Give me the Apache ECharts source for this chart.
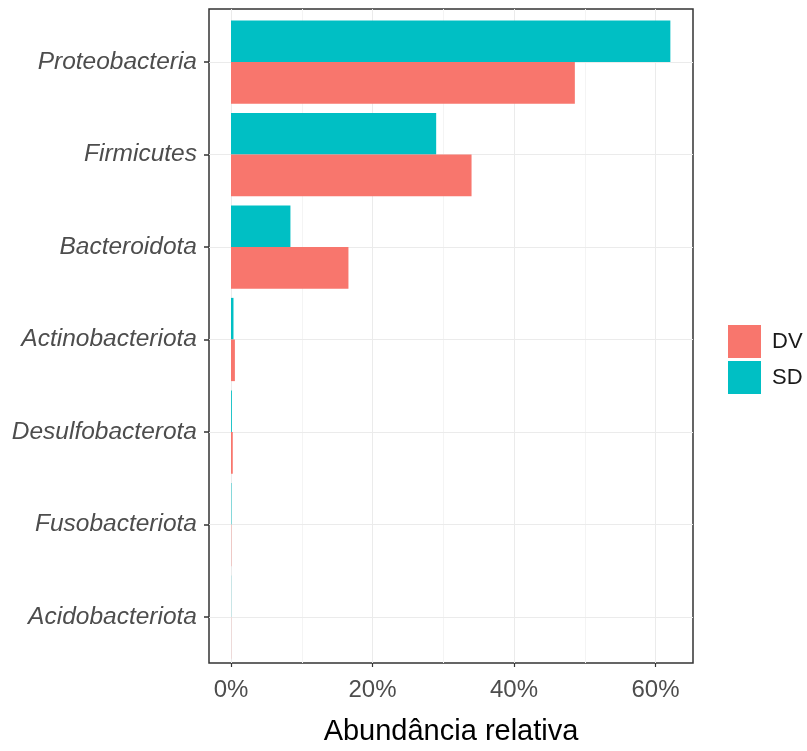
<!DOCTYPE html>
<html>
<head>
<meta charset="utf-8">
<script src="https://cdn.jsdelivr.net/npm/echarts@6/dist/echarts.min.js"></script>
<style>
  html, body { margin: 0; padding: 0; background: #fff; }
  #chart { width: 807px; height: 751px; }
</style>
</head>
<body>
<div id="chart"></div>
<script>
// filos, de cima para baixo
var categories = ['Proteobacteria', 'Firmicutes', 'Bacteroidota', 'Actinobacteriota',
                  'Desulfobacterota', 'Fusobacteriota', 'Acidobacteriota'];
var sdValues = [62.1, 29.0, 8.4, 0.35, 0.12, 0.06, 0.02];
var dvValues = [48.6, 34.0, 16.6, 0.55, 0.25, 0.04, 0.02];
var xTicks = [0, 20, 40, 60];
var xMinorTicks = [10, 30, 50];

var xMin = -3.11, xMax = 65.3;
var font = "'Liberation Sans', Arial, sans-serif";

var chart = echarts.init(document.getElementById('chart'));

chart.setOption({
    backgroundColor: '#ffffff',
    animation: false,
    textStyle: { fontFamily: font },
    legend: {
        orient: 'vertical',
        left: 723,
        top: 320,
        itemWidth: 33,
        itemHeight: 33,
        itemGap: 3,
        icon: 'rect',
        data: ['DV', 'SD'],
        textStyle: { fontSize: 22, color: '#1a1a1a', fontFamily: font, padding: [0, 0, 0, 6] }
    },
    grid: [
        // painel (borda, grade vertical, eixo x)
        { left: 209, top: 9, width: 484, height: 663, show: true,
          borderColor: '#333333', borderWidth: 1.5, backgroundColor: '#ffffff' },
        // barras (expansão discreta de 0.6 como no ggplot)
        { left: 209, top: 15.75, width: 484, height: 647.5 }
    ],
    xAxis: [
        {
            gridIndex: 0, type: 'value', min: xMin, max: xMax,
            axisLine: { show: false, onZero: false },
            axisTick: { show: true, length: 4, customValues: xTicks,
                        lineStyle: { color: '#333333', width: 1.2 } },
            axisLabel: { customValues: xTicks, formatter: '{value}%', margin: 15,
                         fontSize: 24, color: '#4d4d4d', fontFamily: font },
            splitLine: { show: true, lineStyle: { color: '#ebebeb', width: 1 } },
            name: 'Abundância relativa',
            nameLocation: 'middle',
            nameGap: 54,
            nameTextStyle: { fontSize: 29, color: '#000000', fontFamily: font }
        },
        {
            gridIndex: 0, type: 'value', min: xMin, max: xMax,
            axisLine: { show: false, onZero: false },
            axisTick: { show: false, customValues: xMinorTicks },
            axisLabel: { show: false, customValues: xMinorTicks },
            splitLine: { show: true, lineStyle: { color: '#f4f4f4', width: 1 } }
        },
        {
            gridIndex: 1, type: 'value', min: xMin, max: xMax, show: false
        }
    ],
    yAxis: [
        { gridIndex: 0, type: 'value', show: false },
        {
            gridIndex: 1, type: 'category', data: categories, inverse: true,
            position: 'left',
            axisLine: { show: false, onZero: false },
            axisTick: { show: true, alignWithLabel: true, length: 5,
                        lineStyle: { color: '#333333', width: 1.5 } },
            axisLabel: { margin: 12, fontSize: 24.5, fontStyle: 'italic',
                         color: '#4d4d4d', fontFamily: font },
            splitLine: { show: false }
        },
        {
            // linhas horizontais da grade nos centros das categorias
            gridIndex: 1, type: 'category', data: categories, inverse: true,
            position: 'right',
            axisLine: { show: false, onZero: false },
            axisTick: { show: true, inside: true, alignWithLabel: true, length: 484,
                        lineStyle: { color: '#ebebeb', width: 1 } },
            axisLabel: { show: false },
            splitLine: { show: false }
        }
    ],
    series: [
        {
            name: 'SD', type: 'bar', xAxisIndex: 2, yAxisIndex: 1,
            data: sdValues, barGap: '0%', barCategoryGap: '10%',
            itemStyle: { color: '#00BFC4' }
        },
        {
            name: 'DV', type: 'bar', xAxisIndex: 2, yAxisIndex: 1,
            data: dvValues, barGap: '0%', barCategoryGap: '10%',
            itemStyle: { color: '#F8766D' }
        }
    ]
});
</script>
</body>
</html>
